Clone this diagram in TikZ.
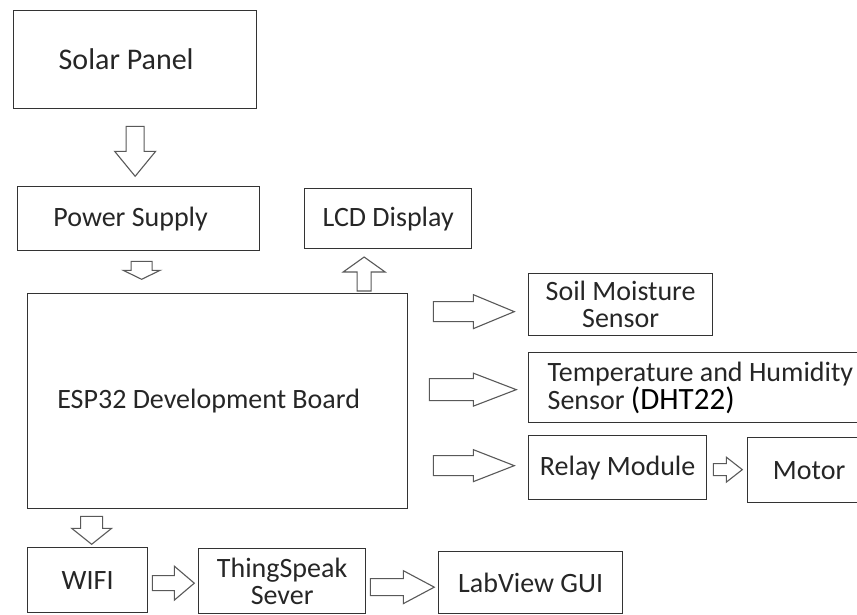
\documentclass[tikz,border=0pt]{standalone}
\usepackage{fontspec}
\setmainfont{Carlito}
\usetikzlibrary{calc}
% hollow block arrow: tail, angle, length, head length, shaft width, head width
\newcommand{\blockarrow}[6]{%
  \draw[hollow, shift={#1}, rotate=#2] (0,-#5/2) -- (#3-#4,-#5/2) -- (#3-#4,-#6/2) -- (#3,0) -- (#3-#4,#6/2) -- (#3-#4,#5/2) -- (0,#5/2) -- cycle;}
\begin{document}
\begin{tikzpicture}[x=1pt, y=-1pt,
    box/.style={draw=black!80, line width=1.3pt, text=black!85, inner sep=0pt, anchor=north west, align=center, font=\fontsize{28}{27}\selectfont},
    hollow/.style={draw=black!65, line width=1.1pt, fill=white, line join=miter}]
        \useasboundingbox (0,0) rectangle (857,614);
        \node[box, minimum width=243pt, minimum height=98pt, font=\fontsize{30}{27}\selectfont] (sp) at (13,10) {\hspace*{-18pt}Solar Panel};
        \node[box, minimum width=242pt, minimum height=64pt] (ps) at (17,186) {\hspace*{-16pt}Power Supply};
        \node[box, minimum width=167pt, minimum height=60pt] (lcd) at (304,188) {LCD Display};
        \node[box, minimum width=380pt, minimum height=215pt] (esp) at (27,293) {\hspace*{-18pt}ESP32 Development Board};
        \node[box, minimum width=184pt, minimum height=62pt] (soil) at (528,273) {Soil Moisture\\Sensor};
        \node[box, align=flush left, inner xsep=19pt, text width=318pt, minimum height=70pt] (dht) at (528,352) {Temperature and Humidity\\Sensor {\fontsize{31}{27}\selectfont\color{black}(DHT22)}};
        \node[box, minimum width=178pt, minimum height=64pt] (relay) at (528,435) {Relay Module};
        \node[box, minimum width=123pt, minimum height=65pt] (motor) at (747,437) {Motor};
        \node[box, minimum width=120pt, minimum height=65pt] (wifi) at (27,547) {WIFI};
        \node[box, minimum width=167pt, minimum height=65pt] (ts) at (198,548) {ThingSpeak\\Sever};
        \node[box, minimum width=184pt, minimum height=62pt] (lab) at (438,551) {LabView GUI};
        \blockarrow{($(sp.south)+(0,17)$)}{-90}{50}{25}{18}{41}
        \blockarrow{($(ps.south)+(3,10)$)}{-90}{18}{9}{21}{37}
        \blockarrow{($(esp.north -| lcd.south)+(-24,-2)$)}{90}{34}{15}{14}{42}
        \blockarrow{($(esp.south -| wifi.north)+(4,7)$)}{-90}{28}{16}{22}{40}
        \blockarrow{($(esp.east |- soil.west)+(25,7)$)}{0}{81}{41}{20}{34}
        \blockarrow{($(esp.east |- dht.west)+(21,2)$)}{0}{87}{43}{22}{33}
        \blockarrow{($(esp.east |- relay.west)+(25,-2)$)}{0}{81}{41}{20}{32}
        \blockarrow{($(relay.east)+(6,2)$)}{0}{29}{16}{12}{25}
        \blockarrow{($(wifi.east)+(4,3)$)}{0}{42}{20}{15}{34}
        \blockarrow{($(ts.east)+(4,6)$)}{0}{64}{31}{17}{33}
    \end{tikzpicture}
\end{document}
